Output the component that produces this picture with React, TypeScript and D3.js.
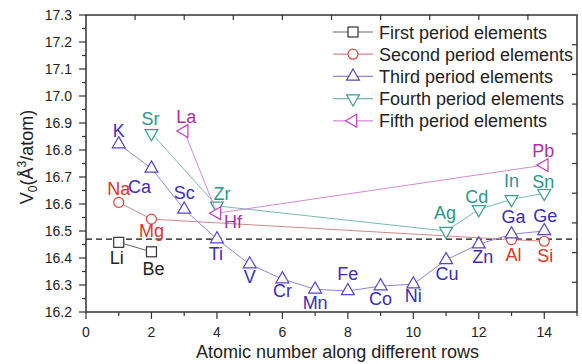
import React from 'react';
import * as d3 from 'd3';

// atomic number along the row (x) and V0 in Å^3/atom (y)
const firstX = [1, 2];
const firstV = [16.458, 16.423];
const firstNames = ['Li', 'Be'];

const secondX = [1, 2, 13, 14];
const secondV = [16.606, 16.544, 16.468, 16.462];
const secondNames = ['Na', 'Mg', 'Al', 'Si'];

const thirdX = [1, 2, 3, 4, 5, 6, 7, 8, 9, 10, 11, 12, 13, 14];
const thirdV = [16.822, 16.732, 16.58, 16.47, 16.377, 16.322, 16.284, 16.278, 16.296, 16.303, 16.393, 16.451, 16.488, 16.5];
const thirdNames = ['K', 'Ca', 'Sc', 'Ti', 'V', 'Cr', 'Mn', 'Fe', 'Co', 'Ni', 'Cu', 'Zn', 'Ga', 'Ge'];

const fourthX = [2, 4, 11, 12, 13, 14];
const fourthV = [16.862, 16.593, 16.5, 16.58, 16.617, 16.64];
const fourthNames = ['Sr', 'Zr', 'Ag', 'Cd', 'In', 'Sn'];

const fifthX = [3, 4, 14];
const fifthV = [16.87, 16.566, 16.744];
const fifthNames = ['La', 'Hf', 'Pb'];

const seriesNames = [
    'First period elements',
    'Second period elements',
    'Third period elements',
    'Fourth period elements',
    'Fifth period elements',
];

const referenceV = 16.47;

// where each element's name sits relative to its point (text centre, baseline)
const labelOffsets: Record<string, [number, number]> = {
    Li: [-2, 22], Be: [2, 23],
    Na: [0, -7], Mg: [0, 18], Al: [2, 21], Si: [1, 21],
    K: [0, -7], Ca: [-12, 25], Sc: [0, -10], Ti: [-1, 21], V: [0, 19], Cr: [0, 18],
    Mn: [0, 20], Fe: [0, -11], Co: [0, 19], Ni: [0, 18], Cu: [1, 20], Zn: [4, 19],
    Ga: [2, -11], Ge: [1, -9],
    Sr: [-1, -8], Zr: [5, -6], Ag: [-1, -12], Cd: [-2, -6], In: [0, -12], Sn: [-1, -5],
    La: [2, -8], Hf: [16, 15], Pb: [-1, -8],
};

const series = [
    { xs: firstX, vs: firstV, names: firstNames, marker: 'square', stroke: '#333333', line: '#666666', text: '#222222' },
    { xs: secondX, vs: secondV, names: secondNames, marker: 'circle', stroke: '#e0403a', line: '#d08a8a', text: '#e5302a' },
    { xs: thirdX, vs: thirdV, names: thirdNames, marker: 'up', stroke: '#5545c5', line: '#8f86cc', text: '#3d2db5' },
    { xs: fourthX, vs: fourthV, names: fourthNames, marker: 'down', stroke: '#3a9c92', line: '#7bb8b0', text: '#2a9688' },
    { xs: fifthX, vs: fifthV, names: fifthNames, marker: 'left', stroke: '#bf3fbf', line: '#d58ad5', text: '#b0309f' },
];

const font = '"Liberation Sans", Arial, sans-serif';

const triangle = d3.symbol(d3.symbolTriangle, 72)() as string;

function Marker({ kind, color, cx, cy }: { kind: string; color: string; cx: number; cy: number }) {
    const common = { fill: 'white', stroke: color, strokeWidth: 1.2 };
    if (kind === 'square') return <rect x={cx - 5} y={cy - 5} width={10} height={10} {...common} />;
    if (kind === 'circle') return <circle cx={cx} cy={cy} r={5} {...common} />;
    const rot = kind === 'up' ? 0 : kind === 'down' ? 180 : -90;
    return <path d={triangle} transform={`translate(${cx},${cy}) rotate(${rot})`} {...common} />;
}

export default function App() {
    const x = d3.scaleLinear().domain([0, 15]).range([86, 577]);
    const y = d3.scaleLinear().domain([16.2, 17.3]).range([312, 15]);
    const [x0, x1] = x.range();
    const [y0, y1] = y.range();

    const line = d3.line<[number, number]>().x(d => x(d[0])).y(d => y(d[1]));

    const leftTicks = d3.range(0, 23).map(k => ({ v: 16.2 + k * 0.05, major: k % 2 === 0 }));
    const bottomTicks = d3.range(0, 16).map(k => ({ v: k, major: k % 2 === 0 }));
    const topTicks = d3.range(1, 10).map(k => k * 1.5);
    const rightTicks = d3.range(1, 10).map(k => 16.2 + k * 0.11);

    return (
        <svg width={582} height={364} style={{ position: 'fixed', left: 0, top: 0, background: 'white' }} fontFamily={font}>
            {/* dashed reference line */}
            <line x1={x0} x2={x1} y1={y(referenceV)} y2={y(referenceV)} stroke="#111" strokeWidth={1.4} strokeDasharray="6,4" />

            {series.map((s, i) => (
                <g key={i}>
                    <path d={line(s.xs.map((xv, j) => [xv, s.vs[j]] as [number, number])) as string} fill="none" stroke={s.line} strokeWidth={1} />
                    {s.xs.map((xv, j) => (
                        <Marker key={j} kind={s.marker} color={s.stroke} cx={x(xv)} cy={y(s.vs[j])} />
                    ))}
                    {s.names.map((n, j) => (
                        <text key={n} x={x(s.xs[j]) + labelOffsets[n][0]} y={y(s.vs[j]) + labelOffsets[n][1]}
                            textAnchor="middle" fontSize={18} fill={s.text}>{n}</text>
                    ))}
                </g>
            ))}

            {/* frame */}
            <rect x={x0} y={y1} width={x1 - x0} height={y0 - y1} fill="none" stroke="#333" strokeWidth={1.5} />

            {/* left axis */}
            {leftTicks.map((t, i) => (
                <g key={i}>
                    <line x1={x0} x2={x0 - (t.major ? 7 : 4)} y1={y(t.v)} y2={y(t.v)} stroke="#333" strokeWidth={1.2} />
                    {t.major && (
                        <text x={72} y={y(t.v) + 5} textAnchor="end" fontSize={14} fill="#222">{t.v.toFixed(1)}</text>
                    )}
                </g>
            ))}

            {/* bottom axis */}
            {bottomTicks.map((t, i) => (
                <g key={i}>
                    <line x1={x(t.v)} x2={x(t.v)} y1={y0} y2={y0 + (t.major ? 7 : 4)} stroke="#333" strokeWidth={1.2} />
                    {t.major && t.v < 15 && (
                        <text x={x(t.v)} y={337} textAnchor="middle" fontSize={14} fill="#222">{t.v}</text>
                    )}
                </g>
            ))}

            {/* mirrored ticks on top and right */}
            {topTicks.map((v, i) => (
                <line key={i} x1={x(v)} x2={x(v)} y1={y1} y2={y1 + 5} stroke="#333" strokeWidth={1.2} />
            ))}
            {rightTicks.map((v, i) => (
                <line key={i} x1={x1} x2={x1 - 5} y1={y(v)} y2={y(v)} stroke="#333" strokeWidth={1.2} />
            ))}

            {/* axis titles */}
            <text x={(x0 + x1) / 2 + 6} y={358} textAnchor="middle" fontSize={18} fill="#222">
                Atomic number along different rows
            </text>
            <text transform="translate(33,157) rotate(-90)" textAnchor="middle" fontSize={18} fill="#222">
                V<tspan fontSize={12} dy={4}>0</tspan><tspan dy={-4}>(Å</tspan><tspan fontSize={12} dy={-7}>3</tspan><tspan dy={7}>/atom)</tspan>
            </text>

            {/* legend */}
            {series.map((s, i) => {
                const ly = 32 + i * 22.2;
                return (
                    <g key={i}>
                        <line x1={333} x2={373} y1={ly} y2={ly} stroke={s.line} strokeWidth={1.2} />
                        <Marker kind={s.marker} color={s.stroke} cx={353} cy={ly} />
                        <text x={379} y={ly + 6.5} fontSize={18} fill="#222">{seriesNames[i]}</text>
                    </g>
                );
            })}
        </svg>
    );
}
